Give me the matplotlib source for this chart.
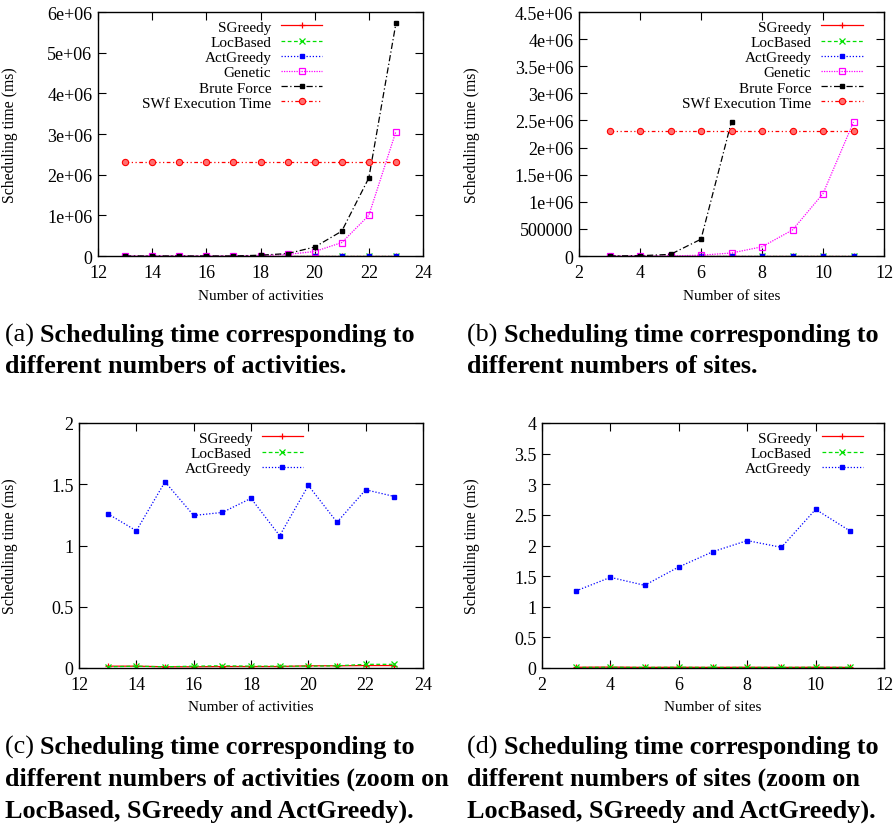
import numpy as np
import matplotlib
matplotlib.use("Agg")
import matplotlib.pyplot as plt

plt.rcParams['font.family'] = ['Liberation Serif', 'DejaVu Serif']

# activities (panels a and c)
activities = [13, 14, 15, 16, 17, 18, 19, 20, 21, 22, 23]
sgreedy_act = [0.015, 0.015, 0.010, 0.010, 0.012, 0.012, 0.012, 0.018, 0.018, 0.020, 0.020]
locbased_act = [0.010, 0.015, 0.010, 0.015, 0.018, 0.015, 0.015, 0.015, 0.018, 0.030, 0.030]
actgreedy_act = [1.26, 1.12, 1.52, 1.245, 1.27, 1.385, 1.08, 1.49, 1.19, 1.455, 1.40]
genetic_act = [0, 0, 0, 0, 0, 1.0e4, 4.0e4, 1.1e5, 3.3e5, 1.0e6, 3.06e6]
brute_act = [0, 0, 0, 0, 0, 2.0e4, 6.0e4, 2.2e5, 6.1e5, 1.92e6, 5.72e6]
swf_act = [2.3e6] * 11

# sites (panels b and d)
sites = [3, 4, 5, 6, 7, 8, 9, 10, 11]
sgreedy_sites = [0.012, 0.015, 0.010, 0.012, 0.010, 0.012, 0.010, 0.012, 0.010]
locbased_sites = [0.010, 0.012, 0.010, 0.012, 0.010, 0.010, 0.010, 0.012, 0.010]
actgreedy_sites = [1.26, 1.48, 1.35, 1.65, 1.90, 2.08, 1.97, 2.59, 2.24]
genetic_sites = [0, 0, 0, 1.5e4, 5.5e4, 1.7e5, 4.8e5, 1.15e6, 2.47e6]
brute_sites = [0, 5.0e3, 3.0e4, 3.1e5, 2.48e6]
swf_sites = [2.3e6] * 9

yticks_a = [0, 1e6, 2e6, 3e6, 4e6, 5e6, 6e6]
ylabels_a = ['0', '1e+06', '2e+06', '3e+06', '4e+06', '5e+06', '6e+06']
yticks_b = [0, 5e5, 1e6, 1.5e6, 2e6, 2.5e6, 3e6, 3.5e6, 4e6, 4.5e6]
ylabels_b = ['0', '500000', '1e+06', '1.5e+06', '2e+06', '2.5e+06', '3e+06',
             '3.5e+06', '4e+06', '4.5e+06']
yticks_c = [0, 0.5, 1, 1.5, 2]
ylabels_c = ['0', '0.5', '1', '1.5', '2']
yticks_d = [0, 0.5, 1, 1.5, 2, 2.5, 3, 3.5, 4]
ylabels_d = ['0', '0.5', '1', '1.5', '2', '2.5', '3', '3.5', '4']

captions = [
    ('(a)', ['Scheduling time corresponding to', 'different numbers of activities.']),
    ('(b)', ['Scheduling time corresponding to', 'different numbers of sites.']),
    ('(c)', ['Scheduling time corresponding to',
             'different numbers of activities (zoom on',
             'LocBased, SGreedy and ActGreedy).']),
    ('(d)', ['Scheduling time corresponding to',
             'different numbers of sites (zoom on',
             'LocBased, SGreedy and ActGreedy).']),
]

STYLES = {
    'SGreedy': dict(color='#ff0000', ls='-', marker='+', ms=5, mew=0.9),
    'LocBased': dict(color='#00e000', ls=(0, (3, 2)), marker='x', ms=4, mew=0.9),
    'ActGreedy': dict(color='#0000ff', ls=(0, (1, 1.5)), marker='s', ms=3.2),
    'Genetic': dict(color='#ff00ff', ls=(0, (1, 1)), marker='s', ms=4.5, mfc='none', mew=0.9),
    'Brute Force': dict(color='black', ls=(0, (5, 2, 1, 2)), marker='s', ms=3.5),
    'SWf Execution Time': dict(color='#ff0000', ls=(0, (3, 2, 1, 2, 1, 2)), marker='o',
                               ms=4.5, mfc='#ff7070', mec='#ff0000', mew=0.8),
}


def style_axes(ax, xlim, xticks, ylim, yticks, ylabels, xlabel):
    ax.set_xlim(*xlim)
    ax.set_ylim(*ylim)
    ax.set_xticks(xticks)
    ax.set_yticks(yticks)
    ax.set_yticklabels(ylabels)
    ax.tick_params(direction='in', top=True, right=True, length=6, width=0.8,
                   labelsize=13)
    ax.tick_params(axis='x', pad=6)
    ax.tick_params(axis='y', pad=4)
    for s in ax.spines.values():
        s.set_linewidth(1.0)
    ax.set_xlabel(xlabel, fontsize=11)
    ax.set_ylabel('Scheduling time (ms)', fontsize=11.3)


def draw(ax, x, name, y):
    ax.plot(x, y, label=name, lw=0.9, **STYLES[name])


fig = plt.figure(figsize=(8.93, 8.29), dpi=100)
W, H = 893.0, 829.0


def add_ax(l, r, t, b):
    return fig.add_axes([l / W, 1 - b / H, (r - l) / W, (b - t) / H])


ax_a = add_ax(98, 423, 13, 257)
ax_b = add_ax(579, 884, 13, 257)
ax_c = add_ax(79, 423, 424, 669)
ax_d = add_ax(542, 884, 424, 669)

draw(ax_a, activities, 'SGreedy', sgreedy_act)
draw(ax_a, activities, 'LocBased', locbased_act)
draw(ax_a, activities, 'ActGreedy', actgreedy_act)
draw(ax_a, activities, 'Genetic', genetic_act)
draw(ax_a, activities, 'Brute Force', brute_act)
draw(ax_a, activities, 'SWf Execution Time', swf_act)
style_axes(ax_a, (12, 24), [12, 14, 16, 18, 20, 22, 24], (0, 6e6), yticks_a, ylabels_a,
           'Number of activities')

draw(ax_b, sites, 'SGreedy', sgreedy_sites)
draw(ax_b, sites, 'LocBased', locbased_sites)
draw(ax_b, sites, 'ActGreedy', actgreedy_sites)
draw(ax_b, sites, 'Genetic', genetic_sites)
draw(ax_b, sites[:len(brute_sites)], 'Brute Force', brute_sites)
draw(ax_b, sites, 'SWf Execution Time', swf_sites)
style_axes(ax_b, (2, 12), [2, 4, 6, 8, 10, 12], (0, 4.5e6), yticks_b, ylabels_b,
           'Number of sites')

draw(ax_c, activities, 'SGreedy', sgreedy_act)
draw(ax_c, activities, 'LocBased', locbased_act)
draw(ax_c, activities, 'ActGreedy', actgreedy_act)
style_axes(ax_c, (12, 24), [12, 14, 16, 18, 20, 22, 24], (0, 2), yticks_c, ylabels_c,
           'Number of activities')

draw(ax_d, sites, 'SGreedy', sgreedy_sites)
draw(ax_d, sites, 'LocBased', locbased_sites)
draw(ax_d, sites, 'ActGreedy', actgreedy_sites)
style_axes(ax_d, (2, 12), [2, 4, 6, 8, 10, 12], (0, 4), yticks_d, ylabels_d,
           'Number of sites')

for ax, xr in [(ax_a, 0.70), (ax_b, 0.94), (ax_c, 0.66), (ax_d, 0.947)]:
    ax.legend(loc='upper right', bbox_to_anchor=(xr, 0.98), frameon=False,
              markerfirst=False, fontsize=11, handlelength=2.7, handletextpad=0.65,
              labelspacing=0.1, borderpad=0.2, borderaxespad=0.0)

# axis labels placed like the original
for ax, xpix in [(ax_a, 18), (ax_b, 480), (ax_c, 18), (ax_d, 480)]:
    bb = ax.get_position()
    ax.yaxis.set_label_coords((xpix / W - bb.x0) / bb.width, 0.5)
    ax.xaxis.set_label_coords(0.5, -39.0 / (bb.height * H))
    ax.xaxis.label.set_va('center')

# captions
cap_pos = [(5, 335), (467, 335), (5, 747), (467, 747)]
for (tag, lines), (cx, cy) in zip(captions, cap_pos):
    t = fig.text(cx / W, 1 - cy / H, tag + ' ', fontsize=18.8, va='center', ha='left')
    plt.annotate(lines[0], xy=(1, 0), xycoords=t, fontsize=18.8, fontweight='bold',
                 va='bottom', ha='left', annotation_clip=False)
    for i, ln in enumerate(lines[1:], start=1):
        fig.text(cx / W, 1 - (cy + 32 * i) / H, ln, fontsize=18.8, fontweight='bold',
                 va='center', ha='left')

fig.savefig('out.png', dpi=100)
